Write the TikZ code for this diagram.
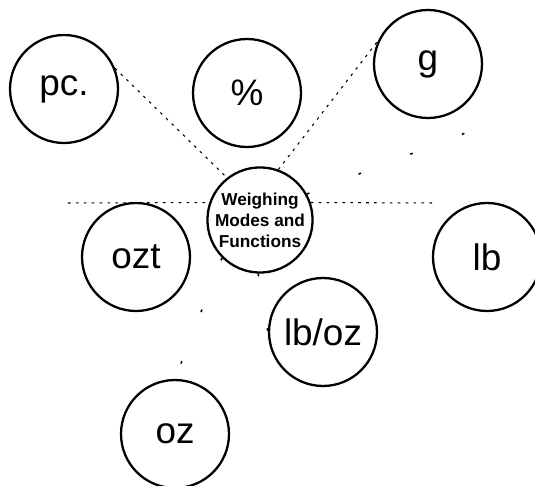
\documentclass[tikz,border=0pt]{standalone}
\usepackage{fontspec}
\setmainfont{Liberation Sans}
\begin{document}
\begin{tikzpicture}[x=0.02cm,y=-0.02cm,
    modo/.style={circle,draw,line width=1.3pt,minimum size=2.16cm,inner sep=0pt,font=\fontsize{21}{24}\selectfont},
    centro/.style={circle,draw,line width=1.3pt,minimum size=2.08cm,inner sep=0pt,align=center,font=\fontsize{9.8}{12}\selectfont\bfseries},
    enlace/.style={line width=0.6pt,dash pattern=on 1.5pt off 3pt},
    tenue/.style={line width=0.9pt,dash pattern=on 1.5pt off 30pt}]
  \useasboundingbox (0,0) rectangle (535,486);

  % Centro
  \node[centro] (hub) at (260,220) {Weighing\\Modes and\\Functions};

  % Modos
  \node[modo] (pc) at (64,89) {pc.};
  \node[modo] (pct) at (247,93) {\%};
  \node[modo] (g) at (428,64) {g};
  \node[modo] (ozt) at (136,257) {ozt};
  \node[modo] (lb) at (487,257) {lb};
  \node[modo] (lboz) at (323,332) {lb/oz};
  \node[modo] (oz) at (175,434) {oz};

  % Enlaces
  \coordinate (izq) at (68,203);
  \coordinate (der) at (437,203);
  \coordinate (marca) at (507,117);
  \draw[enlace] (pc.22) -- (hub.128);
  \draw[enlace] (hub.70) -- (g.155);
  \draw[enlace] (izq) -- (hub.161);
  \draw[enlace] (hub.19) -- (der);
  \draw[tenue] (hub.29) -- (marca);
  \draw[tenue] (hub.268) -- (lboz.180);
  \draw[tenue] (hub.225) -- (oz.north);
\end{tikzpicture}
\end{document}
